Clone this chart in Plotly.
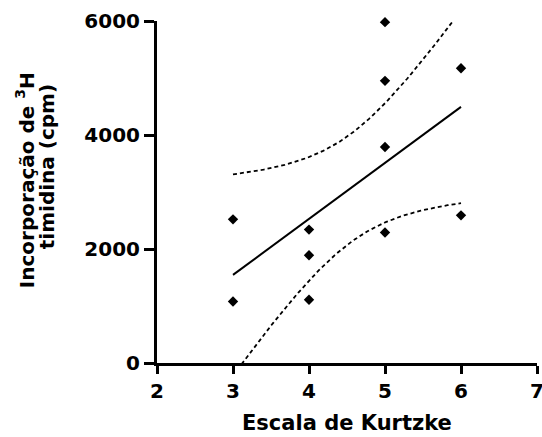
import numpy as np
import plotly.graph_objects as go

# Kurtzke scale score vs. 3H-thymidine incorporation (cpm)
kurtzke = [3, 3, 4, 4, 4, 5, 5, 5, 5, 6, 6]
cpm = [2520, 1080, 2340, 1890, 1110, 5980, 4950, 3790, 2290, 5170, 2590]

x_ticks = [2, 3, 4, 5, 6, 7]
y_ticks = [0, 2000, 4000, 6000]

# Linear regression with 95% confidence band for the mean
x = np.array(kurtzke, dtype=float)
y = np.array(cpm, dtype=float)
n = len(x)
slope, intercept = np.polyfit(x, y, 1)
resid = y - (slope * x + intercept)
s = np.sqrt(np.sum(resid ** 2) / (n - 2))
sxx = np.sum((x - x.mean()) ** 2)
t_crit = 2.262  # t(0.975, df=9)

xg = np.linspace(x.min(), x.max(), 120)
yg = slope * xg + intercept
half = t_crit * s * np.sqrt(1.0 / n + (xg - x.mean()) ** 2 / sxx)

FONT = "DejaVu Sans"

fig = go.Figure()
fig.add_trace(go.Scatter(x=xg, y=yg + half, mode="lines",
                         line=dict(color="black", width=1.8, dash="4px,3px")))
fig.add_trace(go.Scatter(x=xg, y=yg - half, mode="lines",
                         line=dict(color="black", width=1.8, dash="4px,3px")))
fig.add_trace(go.Scatter(x=xg, y=yg, mode="lines",
                         line=dict(color="black", width=2)))
fig.add_trace(go.Scatter(x=kurtzke, y=cpm, mode="markers", cliponaxis=False,
                         marker=dict(symbol="diamond", size=8, color="black")))

fig.update_layout(
    width=542, height=437,
    margin=dict(l=157, r=5, t=21, b=74),
    paper_bgcolor="white", plot_bgcolor="white",
    showlegend=False,
    font=dict(family=FONT, color="black", size=18),
)
fig.update_xaxes(
    range=[2, 7], tickvals=x_ticks, ticktext=[f"<b>{v}</b>" for v in x_ticks],
    showline=True, linecolor="black", linewidth=3,
    ticks="outside", tickwidth=3, ticklen=8, tickcolor="black",
    showgrid=False, zeroline=False, automargin=False,
    ticklabeloverflow="allow",
    tickfont=dict(family=FONT, size=20, color="black"),
)
fig.update_yaxes(
    range=[0, 6000], tickvals=y_ticks, ticktext=[f"<b>{v}</b>" for v in y_ticks],
    showline=True, linecolor="black", linewidth=3,
    ticks="outside", tickwidth=3, ticklen=10, tickcolor="black",
    showgrid=False, zeroline=False, automargin=False,
    tickfont=dict(family=FONT, size=20, color="black"),
)

fig.add_annotation(
    text="<b>Escala de Kurtzke</b>", xref="paper", yref="paper",
    x=0.5, y=-0.175, xanchor="center", yanchor="middle", showarrow=False,
    font=dict(family=FONT, size=21, color="black"),
)
# Two-line y-axis title, each line placed separately for tighter spacing
fig.add_annotation(
    text="<b>Incorporação de <sup>3</sup>H</b>",
    xref="paper", yref="paper", x=-0.347, y=0.535,
    xanchor="center", yanchor="middle", showarrow=False, textangle=-90,
    font=dict(family=FONT, size=20, color="black"),
)
fig.add_annotation(
    text="<b>timidina (cpm)</b>",
    xref="paper", yref="paper", x=-0.289, y=0.573,
    xanchor="center", yanchor="middle", showarrow=False, textangle=-90,
    font=dict(family=FONT, size=20, color="black"),
)

fig.write_html("out.html")
